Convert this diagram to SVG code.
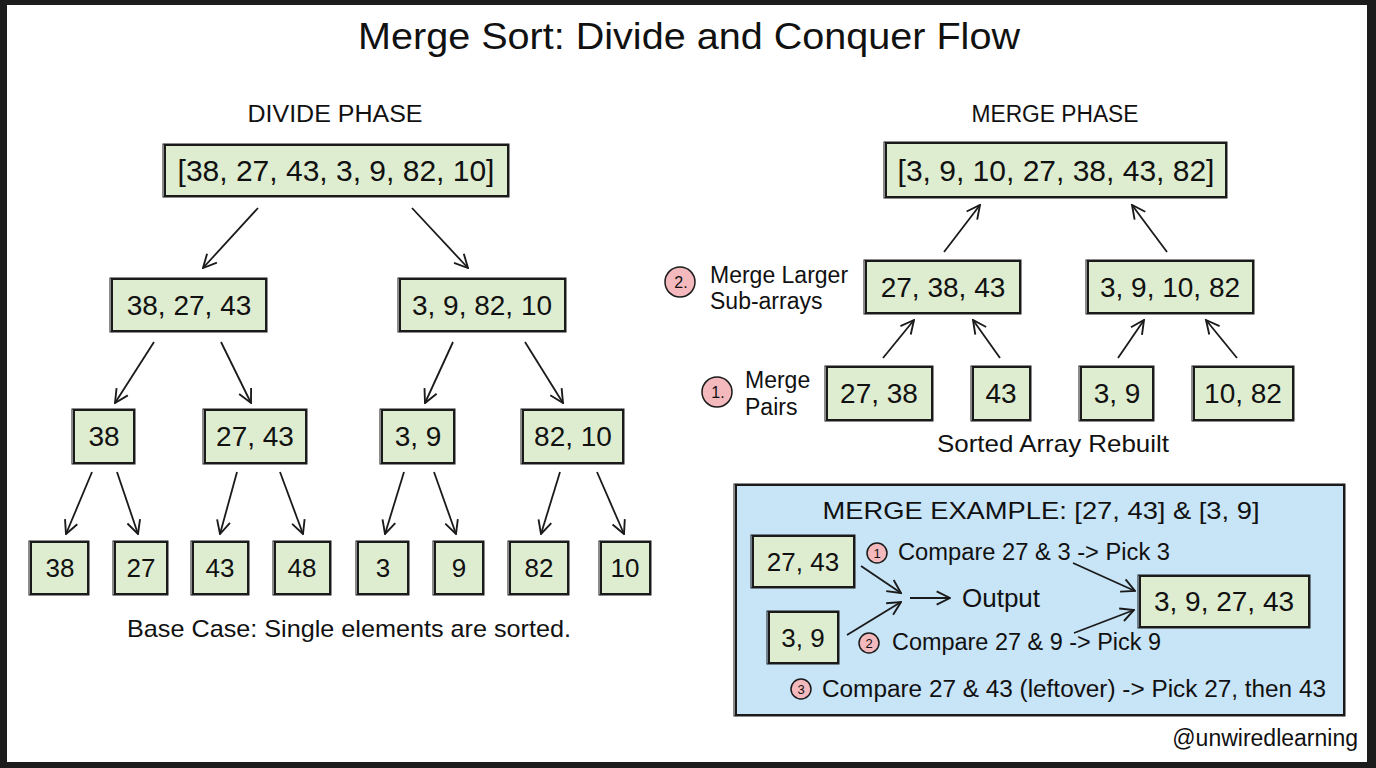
<svg xmlns="http://www.w3.org/2000/svg" width="1376" height="768" viewBox="0 0 1376 768">
<defs>
<style>
text{font-family:"Liberation Sans","DejaVu Sans",sans-serif;fill:#111;}
.title{font-size:37px;text-anchor:middle;}
.phase{font-size:23px;text-anchor:middle;}
.big{font-size:30px;text-anchor:middle;}
.mid{font-size:28px;text-anchor:middle;}
.sm{font-size:26px;text-anchor:middle;}
.lbl{font-size:23px;}
.ex{font-size:23px;}
.box{fill:#deedd0;stroke:#1a1a1a;stroke-width:2;}
.sk{fill:none;stroke:#1a1a1a;stroke-width:1;}
.badge{fill:#f3b9bd;stroke:#1a1a1a;stroke-width:1.5;}
.bt{font-size:16px;text-anchor:middle;}
.arr{stroke:#1a1a1a;stroke-width:1.8;fill:none;marker-end:url(#ah);}
</style>
<marker id="ah" viewBox="0 0 12 12" refX="11" refY="6" markerWidth="16" markerHeight="16" markerUnits="userSpaceOnUse" orient="auto">
<path d="M1,1 L11,6 L1,11" fill="none" stroke="#1a1a1a" stroke-width="1.4"/>
</marker>
</defs>
<rect x="0" y="0" width="1376" height="768" fill="#1c1c1c"/>
<rect x="7" y="5" width="1360" height="757" fill="#ffffff"/>

<text class="title" x="689" y="49" textLength="662" lengthAdjust="spacingAndGlyphs">Merge Sort: Divide and Conquer Flow</text>
<text class="phase" x="335" y="122" textLength="175" lengthAdjust="spacingAndGlyphs">DIVIDE PHASE</text>
<text class="phase" x="1055" y="122" textLength="167" lengthAdjust="spacingAndGlyphs">MERGE PHASE</text>

<!-- Divide nodes -->
<g id="d_root"><rect class="box" x="165" y="145" width="343" height="51"/><rect class="sk" x="163" y="144" width="346" height="53"/><text class="big" x="336" y="181">[38, 27, 43, 3, 9, 82, 10]</text></g>
<g id="d_l"><rect class="box" x="112" y="279" width="154" height="52"/><rect class="sk" x="110" y="278" width="157" height="54"/><text class="mid" x="189" y="315">38, 27, 43</text></g>
<g id="d_r"><rect class="box" x="400" y="279" width="165" height="52"/><rect class="sk" x="398" y="278" width="168" height="54"/><text class="mid" x="482" y="315">3, 9, 82, 10</text></g>
<g id="d_ll"><rect class="box" x="74" y="410" width="60" height="53"/><rect class="sk" x="72" y="409" width="63" height="55"/><text class="mid" x="104" y="446">38</text></g>
<g id="d_lr"><rect class="box" x="205" y="410" width="101" height="53"/><rect class="sk" x="203" y="409" width="104" height="55"/><text class="mid" x="255" y="446">27, 43</text></g>
<g id="d_rl"><rect class="box" x="382" y="410" width="72" height="53"/><rect class="sk" x="380" y="409" width="75" height="55"/><text class="mid" x="418" y="446">3, 9</text></g>
<g id="d_rr"><rect class="box" x="523" y="410" width="100" height="53"/><rect class="sk" x="521" y="409" width="103" height="55"/><text class="mid" x="573" y="446">82, 10</text></g>
<g id="leaf38"><rect class="box" x="31" y="542" width="57" height="52"/><rect class="sk" x="29" y="541" width="60" height="54"/><text class="sm" x="60" y="577">38</text></g>
<g id="leaf27"><rect class="box" x="115" y="542" width="52" height="52"/><rect class="sk" x="113" y="541" width="55" height="54"/><text class="sm" x="141" y="577">27</text></g>
<g id="leaf43"><rect class="box" x="193" y="542" width="55" height="52"/><rect class="sk" x="191" y="541" width="58" height="54"/><text class="sm" x="220" y="577">43</text></g>
<g id="leaf48"><rect class="box" x="275" y="542" width="55" height="52"/><rect class="sk" x="273" y="541" width="58" height="54"/><text class="sm" x="302" y="577">48</text></g>
<g id="leaf3"><rect class="box" x="358" y="542" width="50" height="52"/><rect class="sk" x="356" y="541" width="53" height="54"/><text class="sm" x="383" y="577">3</text></g>
<g id="leaf9"><rect class="box" x="435" y="542" width="48" height="52"/><rect class="sk" x="433" y="541" width="51" height="54"/><text class="sm" x="459" y="577">9</text></g>
<g id="leaf82"><rect class="box" x="510" y="542" width="58" height="52"/><rect class="sk" x="508" y="541" width="61" height="54"/><text class="sm" x="539" y="577">82</text></g>
<g id="leaf10"><rect class="box" x="601" y="542" width="49" height="52"/><rect class="sk" x="599" y="541" width="52" height="54"/><text class="sm" x="625" y="577">10</text></g>
<text x="349" y="637" text-anchor="middle" style="font-size:24px" textLength="444" lengthAdjust="spacingAndGlyphs">Base Case: Single elements are sorted.</text>

<!-- Merge nodes -->
<g id="m_top"><rect class="box" x="886" y="143" width="340" height="54"/><rect class="sk" x="884" y="142" width="343" height="56"/><text class="big" x="1056" y="181">[3, 9, 10, 27, 38, 43, 82]</text></g>
<g id="m_l"><rect class="box" x="866" y="261" width="154" height="52"/><rect class="sk" x="864" y="260" width="157" height="54"/><text class="mid" x="943" y="297">27, 38, 43</text></g>
<g id="m_r"><rect class="box" x="1088" y="261" width="165" height="52"/><rect class="sk" x="1086" y="260" width="168" height="54"/><text class="mid" x="1170" y="297">3, 9, 10, 82</text></g>
<g id="m_ll"><rect class="box" x="827" y="367" width="105" height="53"/><rect class="sk" x="825" y="366" width="108" height="55"/><text class="mid" x="879" y="403">27, 38</text></g>
<g id="m_lr"><rect class="box" x="973" y="367" width="57" height="53"/><rect class="sk" x="971" y="366" width="60" height="55"/><text class="mid" x="1001" y="403">43</text></g>
<g id="m_rl"><rect class="box" x="1081" y="367" width="72" height="53"/><rect class="sk" x="1079" y="366" width="75" height="55"/><text class="mid" x="1117" y="403">3, 9</text></g>
<g id="m_rr"><rect class="box" x="1194" y="367" width="99" height="53"/><rect class="sk" x="1192" y="366" width="102" height="55"/><text class="mid" x="1243" y="403">10, 82</text></g>

<g id="badge_m2"><circle class="badge" cx="680" cy="282" r="15"/><text class="bt" x="681" y="288">2.</text><text class="lbl" x="710" y="283">Merge Larger</text><text class="lbl" x="710" y="309">Sub-arrays</text></g>
<g id="badge_m1"><circle class="badge" cx="717" cy="392" r="15"/><text class="bt" x="718" y="398">1.</text><text class="lbl" x="745" y="388">Merge</text><text class="lbl" x="745" y="415">Pairs</text></g>
<text x="1053" y="452" text-anchor="middle" style="font-size:24px" textLength="232" lengthAdjust="spacingAndGlyphs">Sorted Array Rebuilt</text>

<!-- Merge example -->
<g id="example">
<rect x="736" y="485" width="608" height="230" fill="#c8e4f7" stroke="#1a1a1a" stroke-width="2"/>
<rect x="734" y="484" width="611" height="232" fill="none" stroke="#1a1a1a" stroke-width="1"/>
<text x="1041" y="519" text-anchor="middle" style="font-size:24px" textLength="437" lengthAdjust="spacingAndGlyphs">MERGE EXAMPLE: [27, 43] &amp; [3, 9]</text>
</g>
<g id="ex_a"><rect class="box" x="753" y="536" width="101" height="51"/><rect class="sk" x="751" y="535" width="104" height="53"/><text class="sm" x="803" y="571">27, 43</text></g>
<g id="ex_b"><rect class="box" x="769" y="612" width="69" height="51"/><rect class="sk" x="767" y="611" width="72" height="53"/><text class="sm" x="803" y="647">3, 9</text></g>
<g id="ex_out"><text x="962" y="607" style="font-size:26px">Output</text></g>
<g id="ex_res"><rect class="box" x="1140" y="576" width="169" height="51"/><rect class="sk" x="1138" y="575" width="172" height="53"/><text class="mid" x="1224" y="611">3, 9, 27, 43</text></g>
<g id="step1"><circle class="badge" cx="877" cy="553" r="10"/><text class="bt" x="877" y="558" style="font-size:13px">1</text><text class="ex" x="898" y="560" textLength="272" lengthAdjust="spacingAndGlyphs">Compare 27 &amp; 3 -&gt; Pick 3</text></g>
<g id="step2"><circle class="badge" cx="869" cy="643" r="10"/><text class="bt" x="869" y="648" style="font-size:13px">2</text><text class="ex" x="892" y="650" textLength="269" lengthAdjust="spacingAndGlyphs">Compare 27 &amp; 9 -&gt; Pick 9</text></g>
<g id="step3"><circle class="badge" cx="801" cy="689" r="10"/><text class="bt" x="801" y="694" style="font-size:13px">3</text><text class="ex" x="822" y="697" textLength="504" lengthAdjust="spacingAndGlyphs">Compare 27 &amp; 43 (leftover) -&gt; Pick 27, then 43</text></g>

<text x="1358" y="746" text-anchor="end" style="font-size:23px">@unwiredlearning</text>

<g id="connectors">
<line class="arr" x1="258" y1="208" x2="203" y2="268"/>
<line class="arr" x1="412" y1="208" x2="468" y2="268"/>
<line class="arr" x1="154" y1="342" x2="115" y2="403"/>
<line class="arr" x1="221" y1="342" x2="251" y2="403"/>
<line class="arr" x1="453" y1="342" x2="425" y2="403"/>
<line class="arr" x1="525" y1="342" x2="563" y2="403"/>
<line class="arr" x1="92" y1="472" x2="66" y2="534"/>
<line class="arr" x1="117" y1="472" x2="138" y2="534"/>
<line class="arr" x1="237" y1="472" x2="220" y2="534"/>
<line class="arr" x1="280" y1="472" x2="303" y2="534"/>
<line class="arr" x1="404" y1="472" x2="385" y2="534"/>
<line class="arr" x1="434" y1="472" x2="456" y2="534"/>
<line class="arr" x1="560" y1="472" x2="541" y2="534"/>
<line class="arr" x1="597" y1="472" x2="624" y2="534"/>
<line class="arr" x1="883" y1="358" x2="914" y2="320"/>
<line class="arr" x1="1000" y1="358" x2="973" y2="320"/>
<line class="arr" x1="1118" y1="358" x2="1144" y2="320"/>
<line class="arr" x1="1237" y1="358" x2="1206" y2="320"/>
<line class="arr" x1="944" y1="252" x2="980" y2="205"/>
<line class="arr" x1="1167" y1="252" x2="1132" y2="205"/>
<line class="arr" x1="861" y1="566" x2="901" y2="593"/>
<line class="arr" x1="847" y1="635" x2="901" y2="602"/>
<line class="arr" x1="910" y1="598" x2="950" y2="598"/>
<line class="arr" x1="1073" y1="563" x2="1135" y2="591"/>
<line class="arr" x1="1074" y1="633" x2="1134" y2="610"/>
</g>
</svg>
